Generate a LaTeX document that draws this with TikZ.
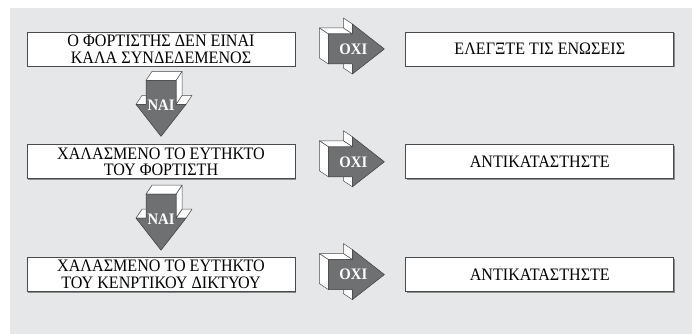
\documentclass[tikz,border=0pt]{standalone}
\usepackage{fontspec}
\setmainfont[FakeStretch=0.92]{Liberation Serif}
\usetikzlibrary{positioning, calc, shadows}
\definecolor{panelGrey}{HTML}{E6E7E8}
\definecolor{arrowDark}{HTML}{6F7072}
\definecolor{edgeGrey}{HTML}{4A4B4D}

\tikzset{
  % 3D block arrow, pointing along +x, extruded back and to its left
  pics/blockarrow/.style={code={
    \foreach \xa/\ya/\xb/\yb in {24/-15/24/-25, 24/25/24/15, 24/15/0/15, 0/15/0/-15}
      \filldraw[arrowside] (\xa,\ya) -- (\xb,\yb) -- ++(-9,6) -- (\xa-9,\ya+6) -- cycle;
    \filldraw[arrowface] (0,-15) -- (24,-15) -- (24,-25) -- (56,0) -- (24,25) -- (24,15) -- (0,15) -- cycle;
    \node[arrowlabel] (-lbl) at (25,0) {#1};
  }}
}

\begin{document}
\begin{tikzpicture}[
    x=1pt, y=1pt,
    box/.style={rectangle, draw=edgeGrey, line width=0.8pt, fill=white,
                minimum width=268pt, minimum height=34pt, inner sep=0pt, align=center,
                font=\fontsize{17.5}{16.8}\selectfont,
                drop shadow={shadow xshift=1pt, shadow yshift=-1pt, fill=black!45, opacity=1}},
    arrowside/.style={fill=white, draw=edgeGrey, line width=0.5pt, line join=round},
    arrowface/.style={fill=arrowDark, draw=edgeGrey!80!black, line width=0.5pt, line join=round},
    arrowlabel/.style={text=white, inner sep=0pt, font=\fontsize{16}{16}\selectfont\bfseries}
  ]
    \useasboundingbox (0,0) rectangle (699,334);
    \fill[panelGrey] (10,0) rectangle (692,326);

    % checks on the left
    \node[box] (q1) at (161,285) {Ο ΦΟΡΤΙΣΤΗΣ ΔΕΝ ΕΙΝΑΙ\\ΚΑΛΑ ΣΥΝΔΕΔΕΜΕΝΟΣ};
    \node[box, below=78pt of q1] (q2) {ΧΑΛΑΣΜΕΝΟ ΤΟ ΕΥΤΗΚΤΟ\\ΤΟΥ ΦΟΡΤΙΣΤΗ};
    \node[box, below=78pt of q2] (q3) {ΧΑΛΑΣΜΕΝΟ ΤΟ ΕΥΤΗΚΤΟ\\ΤΟΥ ΚΕΝΡΤΙΚΟΥ ΔΙΚΤΥΟΥ};

    % actions on the right
    \node[box, right=110pt of q1] (a1) {ΕΛΕΓΞΤΕ ΤΙΣ ΕΝΩΣΕΙΣ};
    \node[box, right=110pt of q2] (a2) {ΑΝΤΙΚΑΤΑΣΤΗΣΤΕ};
    \node[box, right=110pt of q3] (a3) {ΑΝΤΙΚΑΤΑΣΤΗΣΤΕ};

    % block arrows
    \foreach \q in {1,2,3}
      \pic (no\q) at ($(q\q.east)+(33,0)$) {blockarrow=ΟΧΙ};
    \pic[rotate=-90] (yes1) at ($(q1.south)+(0,-14)$) {blockarrow=ΝΑΙ};
    \pic[rotate=-90] (yes2) at ($(q2.south)+(0,-15)$) {blockarrow=ΝΑΙ};
\end{tikzpicture}
\end{document}
